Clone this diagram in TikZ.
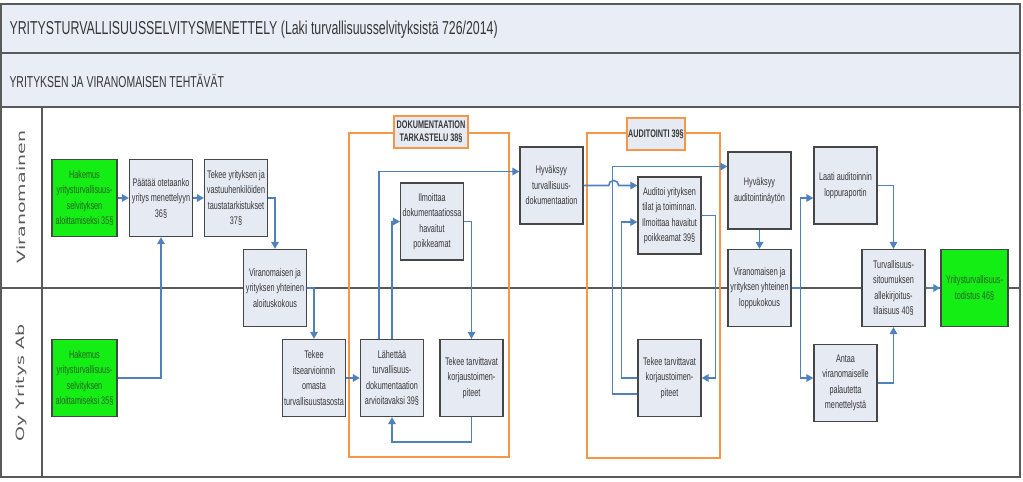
\documentclass[tikz,border=0pt]{standalone}
\usepackage{fontspec}
\setmainfont{Liberation Sans}
\newfontfamily\narrowfont[FakeStretch=0.66]{Liberation Sans}
\newfontfamily\lanefont{DejaVu Sans}
\usetikzlibrary{arrows.meta}

\definecolor{boxfill}{RGB}{230,234,243}
\definecolor{boxline}{RGB}{70,70,70}
\definecolor{boxtext}{RGB}{55,55,55}
\definecolor{bandfill}{RGB}{233,237,245}
\definecolor{gridline}{RGB}{90,90,90}
\definecolor{appgreen}{RGB}{20,238,20}
\definecolor{greentext}{RGB}{40,95,40}
\definecolor{flowblue}{RGB}{79,129,189}
\definecolor{phaseorange}{RGB}{247,150,70}

\begin{document}
\begin{tikzpicture}[x=1pt,y=-1pt,
  box/.style={draw=boxline, fill=boxfill, line width=1.3pt, minimum width=63pt,
    minimum height=77pt, inner sep=0.5pt, align=center, text=boxtext,
    font=\narrowfont\fontsize{11}{15.5}\selectfont},
  greenbox/.style={box, fill=appgreen, text=greentext, minimum width=65pt},
  flow/.style={draw=flowblue, line width=1.6pt, -{Triangle[length=7pt,width=7.5pt]}},
  phase/.style={draw=phaseorange, line width=1.8pt},
  phaselabel/.style={draw=phaseorange, fill=boxfill, line width=1.8pt, inner xsep=3pt,
    minimum height=32pt, align=center, text=boxtext,
    font=\narrowfont\bfseries\fontsize{11}{13}\selectfont},
  lane/.style={rotate=90, text=gridline}]
  \useasboundingbox (0,0) rectangle (1023,482);

  % otsikot ja kaistat
  \fill[bandfill] (1,4) rectangle (1020,107);
  \draw[gridline, line width=1.3pt] (1,4) rectangle (1020,477);
  \draw[gridline, line width=1.3pt] (1,53) -- (1020,53);
  \draw[gridline, line width=1.3pt] (1,107) -- (1020,107);
  \draw[gridline, line width=1.3pt] (1,288) -- (1020,288);
  \draw[gridline, line width=1.3pt] (42,107) -- (42,477);
  \node[anchor=west, text=boxtext, font=\narrowfont\fontsize{18.7}{20}\selectfont] (title) at (6,30)
    {YRITYSTURVALLISUUSSELVITYSMENETTELY (Laki turvallisuusselvityksistä 726/2014)};
  \node[anchor=west, text=boxtext, font=\narrowfont\fontsize{15.8}{17}\selectfont] (subtitle) at (6,81)
    {YRITYKSEN JA VIRANOMAISEN TEHTÄVÄT};
  \node[lane] (viranomainen) at (21,197) {\scalebox{1}[0.6]{\lanefont\fontsize{19}{20}\selectfont Viranomainen}};
  \node[lane] (yritys) at (21,383) {\scalebox{1}[0.6]{\lanefont\fontsize{19}{20}\selectfont Oy Yritys Ab}};

  % vaiheet
  \draw[phase] (349,133) rectangle (509,457);
  \node[phaselabel] (doklabel) at (431,132) {DOKUMENTAATION\\TARKASTELU 38§};
  \draw[phase] (587,133) rectangle (720,458);
  \node[phaselabel, inner xsep=1pt] (audlabel) at (656,134) {AUDITOINTI 39§};

  % laatikot
  \node[greenbox] (hak1) at (84.5,198) {Hakemus\\yritysturvallisuus-\\selvityksen\\aloittamiseksi 35§};
  \node[box] (paat) at (161,198) {Päätää otetaanko\\yritys menettelyyn\\36§};
  \node[box] (tausta) at (236,198) {Tekee yrityksen ja\\vastuuhenkilöiden\\taustatarkistukset\\37§};
  \node[box] (aloitus) at (275,288) {Viranomaisen ja\\yrityksen yhteinen\\aloituskokous};
  \node[greenbox] (hak2) at (84.5,378) {Hakemus\\yritysturvallisuus-\\selvityksen\\aloittamiseksi 35§};
  \node[box] (itse) at (314,378) {Tekee\\itsearvioinnin\\omasta\\turvallisuustasosta};
  \node[box] (ilm) at (432,221.5) {Ilmoittaa\\dokumentaatiossa\\havaitut\\poikkeamat};
  \node[box] (lah) at (392,378) {Lähettää\\turvallisuus-\\dokumentaation\\arvioitavaksi 39§};
  \node[box] (korj1) at (471.5,378) {Tekee tarvittavat\\korjaustoimen-\\piteet};
  \node[box] (hyvdok) at (551.5,185.5) {Hyväksyy\\turvallisuus-\\dokumentaation};
  \node[box] (audit) at (669.5,215.5) {Auditoi yrityksen\\tilat ja toiminnan.\\Ilmoittaa havaitut\\poikkeamat 39§};
  \node[box] (korj2) at (669.5,378) {Tekee tarvittavat\\korjaustoimen-\\piteet};
  \node[box] (hyvaud) at (759.5,190.5) {Hyväksyy\\auditointinäytön};
  \node[box] (lopp) at (759.5,288) {Viranomaisen ja\\yrityksen yhteinen\\loppukokous};
  \node[box] (laati) at (845.5,185.5) {Laati auditoinnin\\loppuraportin};
  \node[box] (turv) at (893.5,288) {Turvallisuus-\\sitoumuksen\\allekirjoitus-\\tilaisuus 40§};
  \node[greenbox, minimum width=67pt] (tod) at (974.5,288) {Yritysturvallisuus-\\todistus 46§};
  \node[box] (antaa) at (845.5,383) {Antaa\\viranomaiselle\\palautetta\\menettelystä};

  % nuolet
  \draw[flow] (hak1) -- (paat);
  \draw[flow] (paat) -- (tausta);
  \draw[flow] (tausta.east) -| (aloitus.north);
  \draw[flow] (hak2.east) -| (paat.south);
  \draw[flow] (aloitus.east) -| (itse.north);
  \draw[flow] (itse) -- (lah);
  \draw[flow] ([xshift=-13pt]lah.north) |- ([yshift=14pt]hyvdok.west);
  \draw[flow] (lah.north) |- (ilm.west);
  \draw[flow] (ilm.east) -| (korj1.north);
  \draw[flow] (korj1.south) -- ++(0,25) -| (lah.south);
  \draw[flow] (hyvdok.east) -- ++(25,0) arc[start angle=180, end angle=0, radius=5pt]
    -- (audit.west |- hyvdok.east);
  \draw[flow] ([yshift=-16pt]korj2.west) -- ++(-25,0) |- ([yshift=24pt]hyvaud.west);
  \draw[flow] (korj2.west) -- ++(-16,0) |- ([yshift=-6.5pt]audit.west);
  \draw[flow] (audit.east) -- ++(14,0) |- (korj2.east);
  \draw[flow] (hyvaud) -- (lopp);
  \draw[flowblue, line width=1.6pt] (lopp.east) -- ++(9,0) coordinate (split);
  \draw[flow] (split) |- ([yshift=-12.5pt]laati.west);
  \draw[flow] (split) |- ([yshift=5pt]antaa.west);
  \draw[flow] (laati.east) -| (turv.north);
  \draw[flow] (antaa.east) -| (turv.south);
  \draw[flow] (turv) -- (tod);
\end{tikzpicture}
\end{document}
